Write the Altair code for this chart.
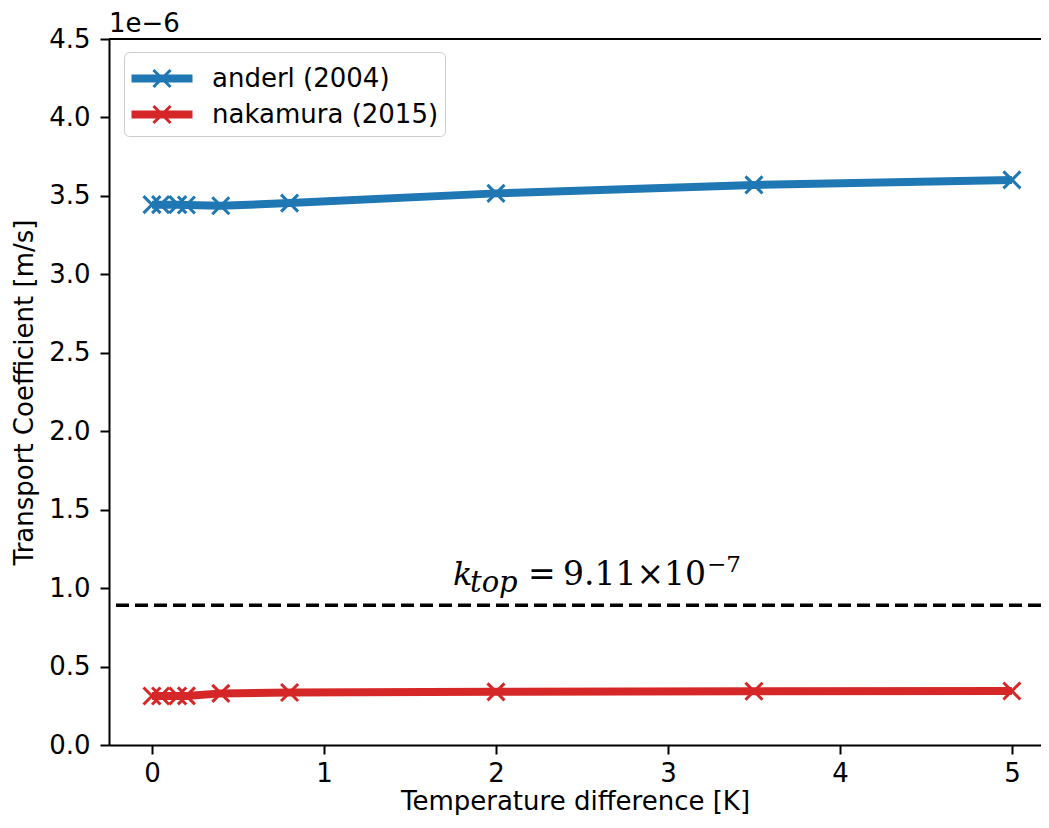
import altair as alt
import pandas as pd

# ---- data ----
dT = [0.0, 0.05, 0.15, 0.2, 0.4, 0.8, 2.0, 3.5, 5.0]
anderl = [3.444, 3.444, 3.444, 3.442, 3.437, 3.454, 3.516, 3.570, 3.602]   # x1e-6 m/s
nakamura = [0.312, 0.312, 0.312, 0.313, 0.329, 0.335, 0.339, 0.343, 0.344]  # x1e-6 m/s
series_names = ["anderl (2004)", "nakamura (2015)"]
series_colors = ["#1f77b4", "#d62728"]
k_top_line = 0.89e-6
y_ticks = [0.0, 0.5, 1.0, 1.5, 2.0, 2.5, 3.0, 3.5, 4.0, 4.5]
x_ticks = [0, 1, 2, 3, 4, 5]
x_domain = [-0.25, 5.169]
y_domain = [0.0, 4.5e-6]

rows = []
for name, vals in zip(series_names, [anderl, nakamura]):
    for x, v in zip(dT, vals):
        rows.append({"dT": x, "k": v * 1e-6, "series": name})
df = pd.DataFrame(rows)

FONT = "DejaVu Sans"
FS = 26
xscale = alt.Scale(domain=x_domain, nice=False, zero=False)
yscale = alt.Scale(domain=y_domain, nice=False)

legend_path = ("M-1,-0.13H2.21M-1,0H2.21M-1,0.13H2.21"
               "M0.155,-0.45L1.055,0.45M0.155,0.45L1.055,-0.45")

color = alt.Color(
    "series:N",
    scale=alt.Scale(domain=series_names, range=series_colors),
    legend=alt.Legend(
        title=None, orient="none", legendX=15, legendY=13,
        symbolType=legend_path, symbolSize=1444, symbolStrokeWidth=3,
        symbolFillColor="transparent",
        labelFont=FONT, labelFontSize=FS, labelColor="black", labelOffset=41,
        padding=6, rowPadding=0, fillColor="white", strokeColor="#cccccc",
        cornerRadius=5, labelLimit=0,
    ),
)

xenc = alt.X("dT:Q", scale=xscale, axis=alt.Axis(
    values=x_ticks, format="d", title="Temperature difference [K]",
    grid=False, labelFontSize=FS, titleFontSize=FS, labelFont=FONT, titleFont=FONT,
    titleFontWeight="normal", labelColor="black", titleColor="black",
    domainColor="black", domainWidth=2, tickColor="black", tickWidth=2, tickSize=9,
    labelPadding=6, titlePadding=2, titleLimit=900,
))
yenc = alt.Y("k:Q", scale=yscale, axis=alt.Axis(
    values=[v * 1e-6 for v in y_ticks], labelExpr="format(datum.value*1e6, '.1f')",
    title="Transport Coefficient [m/s]",
    grid=False, labelFontSize=FS, titleFontSize=FS, labelFont=FONT, titleFont=FONT,
    titleFontWeight="normal", labelColor="black", titleColor="black",
    domainColor="black", domainWidth=2, tickColor="black", tickWidth=2, tickSize=9,
    labelPadding=10, titlePadding=11, titleLimit=900,
))

base = alt.Chart(df)
lines = base.mark_line(strokeWidth=8, strokeJoin="round").encode(x=xenc, y=yenc, color=color)
points = base.mark_point(
    shape="M-1,-1L1,1M-1,1L1,-1", size=289, filled=False, strokeWidth=3, opacity=1
).encode(x="dT:Q", y="k:Q",
         color=alt.Color("series:N", scale=alt.Scale(domain=series_names, range=series_colors)))

dash = alt.Chart().mark_rule(color="black", strokeWidth=3.5, strokeDash=[13, 6]).encode(
    y=alt.datum(k_top_line)
)
top_spine = alt.Chart().mark_rule(color="black", strokeWidth=2).encode(y=alt.datum(y_domain[1]))
offset_text = alt.Chart().mark_text(
    text="1e−6", font=FONT, fontSize=FS, align="left", baseline="alphabetic", dy=-7, color="black"
).encode(x=alt.datum(x_domain[0]), y=alt.datum(y_domain[1]))

ax, ay = 1.75, k_top_line
def txt(t, dx, dy, size, italic=False):
    kw = dict(font="DejaVu Serif", fontSize=size, align="left", baseline="alphabetic",
              dx=dx, dy=dy, color="black", text=t)
    if italic:
        kw["fontStyle"] = "italic"
    return alt.Chart().mark_text(**kw).encode(x=alt.datum(ax), y=alt.datum(ay))

ann = (txt("k", 0, -20, 32, True) + txt("top", 17, -13, 29, True)
       + txt("=", 75, -20, 33) + txt("9.11×10", 110, -20, 33) + txt("−7", 254, -33, 23))

chart = alt.layer(lines, points, dash, top_spine, offset_text, ann).properties(
    width=932, height=706,
    autosize=alt.AutoSizeParams(type="none"),
    padding={"left": 101, "top": 31, "right": 0, "bottom": 70},
).configure_view(stroke=None).configure(background="white")

chart.save("out.html", embed_options={"renderer": "svg", "actions": False})
